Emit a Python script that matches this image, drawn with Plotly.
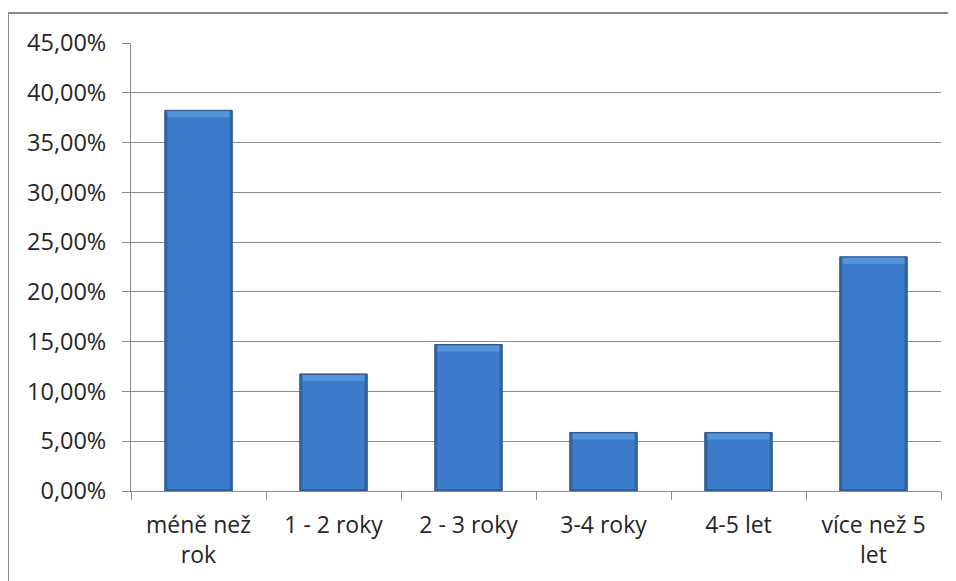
import plotly.graph_objects as go

# data
categories = ['méně než<br>rok', '1 - 2 roky', '2 - 3 roky', '3-4 roky', '4-5 let', 'více než 5<br>let']
shares = [0.3824, 0.1176, 0.1471, 0.0588, 0.0588, 0.2353]
y_ticks = [0, 0.05, 0.10, 0.15, 0.20, 0.25, 0.30, 0.35, 0.40, 0.45]

# page body adds an 8px offset, so the figure is a bit smaller than the window
W, H = 948, 573
L, R, T, B = 123, 15, 35, 90
pw, ph = W - L - R, H - T - B

cap = 0.006  # height of the lighter bevel on top of each bar

fig = go.Figure()
# dark outer body of the bars
fig.add_trace(go.Bar(
    x=categories, y=shares, width=0.5,
    marker=dict(color='#31659f', line=dict(color='#2b5788', width=1)),
    hoverinfo='skip',
))
# lighter face
fig.add_trace(go.Bar(
    x=categories, y=[s - 0.003 for s in shares], base=[0.002] * len(shares), width=0.46,
    marker=dict(color='#3c7bca', line=dict(width=0)),
))
# bevel on top
fig.add_trace(go.Bar(
    x=categories, y=[cap] * len(shares), base=[s - cap - 0.001 for s in shares], width=0.46,
    marker=dict(color='#5593dc', line=dict(width=0)),
    hoverinfo='skip',
))

fig.update_layout(
    width=W, height=H,
    margin=dict(l=L, r=R, t=T, b=B),
    paper_bgcolor='white', plot_bgcolor='white',
    separators=', ',
    showlegend=False,
    barmode='overlay',
    font=dict(family='Open Sans, Noto Sans, sans-serif', size=23, color='#262626'),
)

fig.update_yaxes(
    range=[0, 0.45], tickvals=y_ticks, tickformat='.2%',
    tickfont=dict(size=23.5),
    showgrid=True, gridcolor='#8c8c8c', gridwidth=1,
    showline=True, linecolor='#8c8c8c', linewidth=1,
    ticks='outside', ticklen=8, tickcolor='#8c8c8c',
    ticklabelstandoff=11,
    zeroline=False, fixedrange=True,
)
fig.update_xaxes(
    tickson='boundaries', ticks='outside', ticklen=8, tickcolor='#8c8c8c',
    showline=True, linecolor='#8c8c8c', linewidth=1,
    ticklabelstandoff=13,
    showgrid=False, fixedrange=True,
)

# outer chart frame (left and top edges visible)
def px_x(v):
    return (v - L) / pw

def px_y(v):
    return (H - B - v) / ph

fig.add_shape(type='line', xref='paper', yref='paper',
              x0=px_x(0), x1=px_x(0), y0=px_y(H + 5), y1=px_y(5),
              line=dict(color='#8a8a8a', width=2))
fig.add_shape(type='line', xref='paper', yref='paper',
              x0=px_x(-1), x1=px_x(W + 5), y0=px_y(5), y1=px_y(5),
              line=dict(color='#8a8a8a', width=2))

fig.write_html("out.html")
